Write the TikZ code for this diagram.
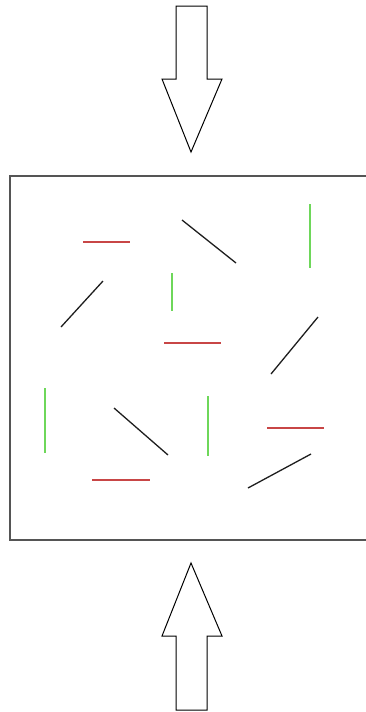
\documentclass[tikz,border=0pt]{standalone}
\usepackage{tikz}
\definecolor{rodred}{RGB}{200,70,70}
\definecolor{rodgreen}{RGB}{110,215,90}
\definecolor{rodblack}{RGB}{30,30,30}
\definecolor{boxgray}{RGB}{85,85,85}

\begin{document}
\begin{tikzpicture}[x=1pt,y=-1pt,
  bigarrow/.style={draw=black,line width=1pt,line join=miter,fill=white},
  frame/.style={draw=boxgray,line width=1.3pt},
  rodh/.style={draw=rodred,line width=1.3pt},
  rodv/.style={draw=rodgreen,line width=1.3pt},
  rodd/.style={draw=rodblack,line width=1.3pt}]
  \useasboundingbox (0,0) rectangle (365,712);
  % load arrows
  \draw[bigarrow] (176,6) -- (207,6) -- (207,79) -- (222,79) -- (191,152)
    -- (162,79) -- (176,79) -- cycle;
  \draw[bigarrow] (176,710) -- (207,710) -- (207,636) -- (222,636) -- (191,563)
    -- (162,636) -- (176,636) -- cycle;
  % sample
  \draw[frame] (367,176) -- (10,176) -- (10,540) -- (367,540);
  % horizontal rods
  \draw[rodh] (83,242) -- (130,242);
  \draw[rodh] (164,343) -- (221,343);
  \draw[rodh] (267,428) -- (324,428);
  \draw[rodh] (92,480) -- (150,480);
  % vertical rods
  \draw[rodv] (310,204) -- (310,268);
  \draw[rodv] (172,273) -- (172,311);
  \draw[rodv] (45,388) -- (45,453);
  \draw[rodv] (208,396) -- (208,456);
  % tilted rods
  \draw[rodd] (182,220) -- (236,263);
  \draw[rodd] (61,327) -- (103,281);
  \draw[rodd] (318,317) -- (271,374);
  \draw[rodd] (114,408) -- (168,455);
  \draw[rodd] (248,488) -- (311,454);
\end{tikzpicture}
\end{document}
